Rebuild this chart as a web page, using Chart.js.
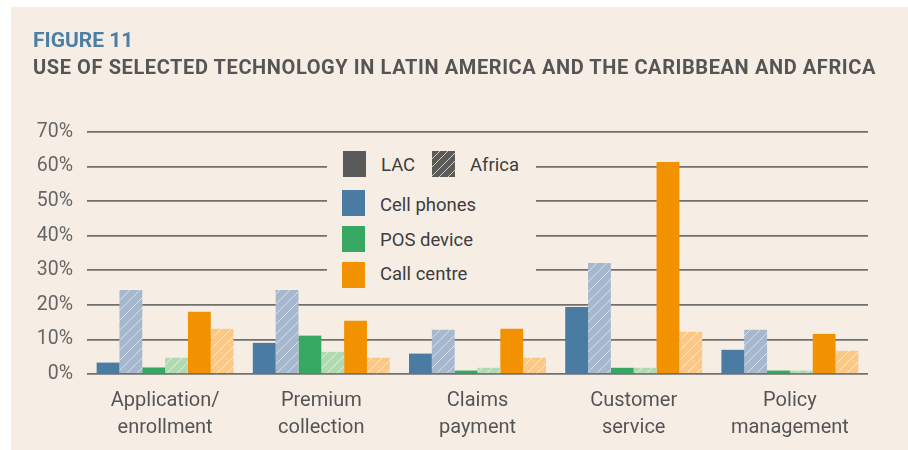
<!DOCTYPE html>
<html>
<head>
<meta charset="utf-8">
<script src="https://cdn.jsdelivr.net/npm/chart.js@4/dist/chart.umd.min.js"></script>
<style>
  body { margin: 0; background: #fff; width: 908px; height: 450px; overflow: hidden; font-family: Roboto, sans-serif; }
  #panel { position: absolute; left: 11px; top: 7px; width: 897px; height: 443px; background: #f6eee4; }
  #wrap { position: absolute; left: 0; top: 0; width: 908px; height: 450px; }
  .t1 { position: absolute; left: 33px; top: 28px; font-weight: bold; font-size: 21px; color: #4c7ea6; white-space: nowrap; }
  .t2 { position: absolute; left: 33px; top: 55px; font-weight: bold; font-size: 20px; color: #555; white-space: nowrap; }
  #legend { position: absolute; left: 327px; top: 148px; width: 209px; height: 143px; background: #f6eee4; color: #3d3d3d; font-size: 18.5px; }
  .sw { position: absolute; width: 23px; height: 26px; }
  .lb { position: absolute; line-height: 20px; white-space: nowrap; }
</style>
</head>
<body>
<div id="panel"></div>
<div id="wrap"><canvas id="myChart" width="908" height="450"></canvas></div>
<div class="t1">FIGURE 11</div>
<div class="t2" id="t2">USE OF SELECTED TECHNOLOGY IN LATIN AMERICA AND THE CARIBBEAN AND AFRICA</div>
<div id="legend">
  <div class="sw" style="left:16px;top:3px;background:#5a5a5a"></div>
  <div class="lb" style="left:54px;top:7px">LAC</div>
  <div class="sw" style="left:105px;top:3px;background:repeating-linear-gradient(135deg,#5a5a5a 0 5px,#d9c9ae 5px 6px)"></div>
  <div class="lb" style="left:143px;top:7px">Africa</div>
  <div class="sw" style="left:15px;top:42px;background:#4a7ca3"></div>
  <div class="lb" style="left:53px;top:47px">Cell phones</div>
  <div class="sw" style="left:15px;top:78px;background:#37a862"></div>
  <div class="lb" style="left:53px;top:82px">POS device</div>
  <div class="sw" style="left:15px;top:114px;background:#f39200"></div>
  <div class="lb" style="left:53px;top:116px">Call centre</div>
</div>
<script>
const categories = [['Application/', 'enrollment'], ['Premium', 'collection'], ['Claims', 'payment'], ['Customer', 'service'], ['Policy', 'management']];
const cellLAC = [3.3, 9, 5.9, 19.4, 7];
const cellAfrica = [24.3, 24.3, 12.8, 32.1, 12.8];
const posLAC = [1.9, 11.1, 1, 1.8, 1];
const posAfrica = [4.7, 6.4, 1.8, 1.8, 1];
const callLAC = [18, 15.4, 13.1, 61.3, 11.6];
const callAfrica = [13.1, 4.7, 4.7, 12.2, 6.7];
const yMax = 70;
const yStep = 10;

// stretch title line to the width of the original
const t2 = document.getElementById('t2');
const need = 843 - t2.getBoundingClientRect().width;
t2.style.letterSpacing = (need / t2.textContent.length) + 'px';

const hatch = (color) => {
  const c = document.createElement('canvas');
  c.width = 10; c.height = 10;
  const g = c.getContext('2d');
  g.fillStyle = color;
  g.fillRect(0, 0, 10, 10);
  g.strokeStyle = 'rgba(255,255,255,0.55)';
  g.lineWidth = 1;
  g.beginPath();
  g.moveTo(0, 10); g.lineTo(10, 0);
  g.moveTo(-5, 5); g.lineTo(5, -5);
  g.moveTo(5, 15); g.lineTo(15, 5);
  g.stroke();
  return g.createPattern(c, 'repeat');
};

const ctx = document.querySelector('#myChart').getContext('2d');

const bar = (data, bg) => ({ data, backgroundColor: bg, borderWidth: 0, categoryPercentage: 0.877, barPercentage: 1 });

new Chart(ctx, {
  type: 'bar',
  data: {
    labels: categories,
    datasets: [
      bar(cellLAC, '#4a7ca3'),
      bar(cellAfrica, hatch('#a8b8cc')),
      bar(posLAC, '#37a862'),
      bar(posAfrica, hatch('#b2d9b1')),
      bar(callLAC, '#f39200'),
      bar(callAfrica, hatch('#f9c98a')),
    ],
  },
  options: {
    responsive: false,
    animation: false,
    layout: { padding: { left: 0, top: 132, right: 40, bottom: 0 } },
    plugins: { legend: { display: false }, tooltip: { enabled: false } },
    scales: {
      x: {
        grid: { display: false },
        border: { display: false },
        ticks: { color: '#555', font: { family: 'Roboto', size: 20, lineHeight: 1.33 }, padding: 6, maxRotation: 0 },
        afterFit: (s) => { s.height = 76; },
      },
      y: {
        min: 0, max: yMax,
        border: { display: false },
        grid: { color: '#707070', lineWidth: 1.8, drawTicks: false },
        ticks: { stepSize: yStep, color: '#666', padding: 14, font: { family: 'Roboto', size: 19.5 }, callback: (v) => v + '%' },
        afterFit: (s) => { s.width = 87; },
      },
    },
  },
});
</script>
</body>
</html>
